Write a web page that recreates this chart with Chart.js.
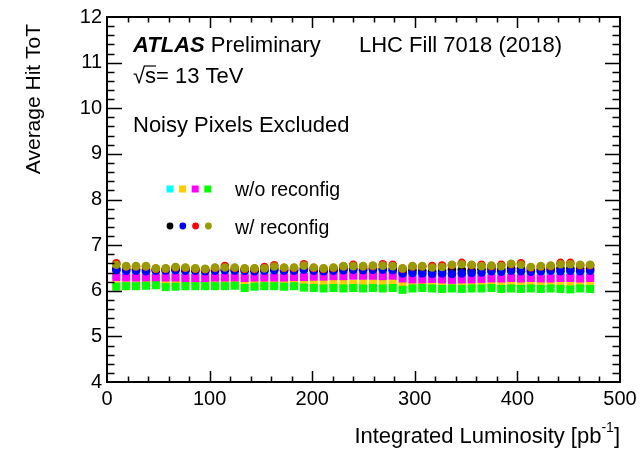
<!DOCTYPE html>
<html lang="en">
<head>
<meta charset="UTF-8">
<title>Average Hit ToT vs Integrated Luminosity</title>
<script src="https://cdn.jsdelivr.net/npm/chart.js@4.4.1/dist/chart.umd.min.js"></script>
<style>
  body { margin: 0; background: #ffffff; }
  canvas { display: block; }
</style>
</head>
<body>
<canvas id="totChart" width="642" height="452"></canvas>
<script>
// integrated luminosity of each measurement [pb^-1]
const lumi = [9.1, 18.7, 28.3, 38.0, 47.6, 57.2, 66.8, 76.4, 86.1, 95.7,
  105.3, 114.9, 124.5, 134.2, 143.8, 153.4, 163.0, 172.6, 182.3, 191.9,
  201.5, 211.1, 220.7, 230.4, 240.0, 249.6, 259.2, 268.8, 278.5, 288.1,
  297.7, 307.3, 316.9, 326.6, 336.2, 345.8, 355.4, 365.0, 374.7, 384.3,
  393.9, 403.5, 413.1, 422.8, 432.4, 442.0, 451.6, 461.2, 470.9];

// w/o reconfig (squares)
const woCyan = [6.35, 6.35, 6.34, 6.35, 6.34, 6.35, 6.35, 6.34, 6.34, 6.34,
  6.35, 6.35, 6.35, 6.34, 6.35, 6.35, 6.35, 6.35, 6.36, 6.36,
  6.36, 6.36, 6.37, 6.37, 6.37, 6.37, 6.37, 6.36, 6.37, 6.33,
  6.32, 6.32, 6.33, 6.32, 6.31, 6.32, 6.32, 6.33, 6.34, 6.34,
  6.34, 6.34, 6.35, 6.34, 6.34, 6.35, 6.35, 6.34, 6.35];
const woOrange = [6.12, 6.12, 6.12, 6.13, 6.19, 6.16, 6.17, 6.17, 6.17, 6.13,
  6.13, 6.13, 6.14, 6.12, 6.13, 6.13, 6.13, 6.14, 6.14, 6.16,
  6.15, 6.16, 6.15, 6.16, 6.15, 6.17, 6.17, 6.19, 6.17, 6.12,
  6.11, 6.12, 6.12, 6.13, 6.14, 6.15, 6.15, 6.16, 6.14, 6.13,
  6.14, 6.14, 6.16, 6.15, 6.16, 6.15, 6.16, 6.15, 6.14];
const woMagenta = [6.30, 6.29, 6.29, 6.29, 6.28, 6.29, 6.29, 6.28, 6.28, 6.28,
  6.29, 6.29, 6.29, 6.28, 6.29, 6.29, 6.29, 6.29, 6.30, 6.30,
  6.31, 6.31, 6.32, 6.32, 6.33, 6.33, 6.33, 6.32, 6.33, 6.27,
  6.25, 6.25, 6.26, 6.25, 6.24, 6.25, 6.25, 6.26, 6.27, 6.27,
  6.28, 6.27, 6.28, 6.27, 6.27, 6.28, 6.28, 6.27, 6.28];
const woGreen = [6.09, 6.10, 6.10, 6.11, 6.12, 6.08, 6.09, 6.10, 6.10, 6.10,
  6.10, 6.10, 6.11, 6.06, 6.09, 6.10, 6.10, 6.09, 6.10, 6.07,
  6.06, 6.05, 6.06, 6.05, 6.06, 6.05, 6.06, 6.05, 6.06, 6.02,
  6.05, 6.06, 6.05, 6.04, 6.05, 6.04, 6.05, 6.05, 6.06, 6.04,
  6.05, 6.04, 6.05, 6.04, 6.05, 6.04, 6.03, 6.05, 6.04];

// w/ reconfig (circles)
const wBlack = [6.48, 6.47, 6.47, 6.46, 6.46, 6.46, 6.47, 6.46, 6.46, 6.45,
  6.46, 6.47, 6.46, 6.46, 6.45, 6.46, 6.48, 6.46, 6.46, 6.49,
  6.46, 6.45, 6.46, 6.48, 6.49, 6.48, 6.49, 6.49, 6.48, 6.44,
  6.45, 6.44, 6.43, 6.44, 6.46, 6.46, 6.45, 6.47, 6.48, 6.47,
  6.49, 6.48, 6.46, 6.47, 6.48, 6.49, 6.49, 6.48, 6.48];
const wBlue = [6.45, 6.44, 6.44, 6.43, 6.44, 6.44, 6.45, 6.44, 6.44, 6.43,
  6.44, 6.45, 6.44, 6.44, 6.43, 6.44, 6.45, 6.44, 6.44, 6.46,
  6.44, 6.43, 6.44, 6.45, 6.46, 6.45, 6.46, 6.46, 6.45, 6.38,
  6.39, 6.38, 6.37, 6.38, 6.37, 6.38, 6.39, 6.40, 6.43, 6.42,
  6.44, 6.43, 6.42, 6.43, 6.44, 6.43, 6.44, 6.43, 6.44];
const wRed = [6.60, 6.53, 6.53, 6.53, 6.48, 6.48, 6.51, 6.50, 6.48, 6.47,
  6.50, 6.54, 6.50, 6.48, 6.48, 6.52, 6.56, 6.50, 6.50, 6.58,
  6.50, 6.48, 6.50, 6.53, 6.57, 6.53, 6.54, 6.58, 6.57, 6.48,
  6.53, 6.53, 6.54, 6.55, 6.56, 6.61, 6.56, 6.57, 6.54, 6.57,
  6.58, 6.60, 6.51, 6.53, 6.54, 6.61, 6.61, 6.56, 6.56];
const wOlive = [6.57, 6.54, 6.54, 6.54, 6.49, 6.49, 6.52, 6.51, 6.49, 6.48,
  6.51, 6.51, 6.51, 6.49, 6.49, 6.49, 6.53, 6.51, 6.51, 6.55,
  6.51, 6.49, 6.51, 6.54, 6.54, 6.54, 6.55, 6.55, 6.54, 6.49,
  6.54, 6.54, 6.51, 6.52, 6.57, 6.58, 6.57, 6.54, 6.55, 6.54,
  6.59, 6.57, 6.52, 6.54, 6.55, 6.58, 6.58, 6.57, 6.57];

const FONT = "'Liberation Sans', Arial, Helvetica, sans-serif";

function series(values, color, style, radius, order) {
  return {
    data: lumi.map((x, i) => ({ x: x, y: values[i] })),
    backgroundColor: color,
    pointStyle: style,
    pointRadius: radius,
    pointBorderWidth: 0,
    showLine: false,
    order: order
  };
}

// order: first entry ends up at the back, olive circles on top
const datasets = [
  series(woCyan, '#00ffff', 'rect', 5.7, 8),
  series(woOrange, '#ffcc00', 'rect', 5.7, 7),
  series(woMagenta, '#ff00ff', 'rect', 5.7, 6),
  series(woGreen, '#00ff00', 'rect', 5.7, 5),
  series(wBlack, '#000000', 'circle', 4.3, 4),
  series(wBlue, '#0000ff', 'circle', 4.3, 3),
  series(wRed, '#ff0000', 'circle', 4.3, 2),
  series(wOlive, '#999900', 'circle', 4.3, 1)
];

// ROOT-style frame: inward ticks on all four sides, plus the text labels
const rootFrame = {
  id: 'rootFrame',
  afterDraw(chart) {
    const ctx = chart.ctx;
    const a = chart.chartArea;
    const xs = chart.scales.x, ys = chart.scales.y;
    ctx.save();
    ctx.strokeStyle = '#000';
    ctx.lineWidth = 2;
    ctx.strokeRect(a.left, a.top, a.right - a.left, a.bottom - a.top);

    ctx.lineWidth = 1.5;
    ctx.beginPath();
    for (let k = 1; k < 25; k++) {
      const px = Math.round(xs.getPixelForValue(k * 20)) + 0.5;
      const len = k % 5 === 0 ? 11 : 5.5;
      ctx.moveTo(px, a.bottom); ctx.lineTo(px, a.bottom - len);
      ctx.moveTo(px, a.top); ctx.lineTo(px, a.top + len);
    }
    for (let k = 1; k < 40; k++) {
      const py = Math.round(ys.getPixelForValue(4 + k * 0.2)) + 0.5;
      const len = k % 5 === 0 ? 15 : 7.5;
      ctx.moveTo(a.left, py); ctx.lineTo(a.left + len, py);
      ctx.moveTo(a.right, py); ctx.lineTo(a.right - len, py);
    }
    ctx.stroke();

    // header text
    ctx.fillStyle = '#000';
    ctx.textBaseline = 'alphabetic';
    ctx.textAlign = 'left';
    ctx.font = 'italic bold 22px ' + FONT;
    ctx.fillText('ATLAS', 133, 52);
    const atlasW = ctx.measureText('ATLAS ').width;
    ctx.font = '22px ' + FONT;
    ctx.fillText('Preliminary', 133 + atlasW, 52);
    ctx.fillText('LHC Fill 7018 (2018)', 359, 52);

    // sqrt(s) with a bar over the s
    const rootW = ctx.measureText('\u221A').width;
    const sW = ctx.measureText('s').width;
    ctx.fillText('\u221A', 133, 83);
    ctx.fillText('s= 13 TeV', 133 + rootW, 83);
    ctx.lineWidth = 1.2;
    ctx.beginPath();
    ctx.moveTo(133 + rootW - 1, 66);
    ctx.lineTo(133 + rootW + sW, 66);
    ctx.stroke();

    ctx.fillText('Noisy Pixels Excluded', 133, 132);

    // legend
    const sq = ['#00ffff', '#ffcc00', '#ff00ff', '#00ff00'];
    const dots = ['#000000', '#0000ff', '#ff0000', '#999900'];
    sq.forEach((c, i) => {
      ctx.fillStyle = c;
      ctx.fillRect(166.5 + i * 12.6, 185.5, 7, 7);
    });
    dots.forEach((c, i) => {
      ctx.fillStyle = c;
      ctx.beginPath();
      ctx.arc(170 + i * 12.8, 226, 3.4, 0, Math.PI * 2);
      ctx.fill();
    });
    ctx.fillStyle = '#000';
    ctx.font = '19.5px ' + FONT;
    ctx.fillText('w/o reconfig', 235, 196);
    ctx.fillText('w/ reconfig', 235, 234);

    // axis titles
    ctx.font = '21px ' + FONT;
    ctx.save();
    ctx.translate(40, 24);
    ctx.rotate(-Math.PI / 2);
    ctx.textAlign = 'right';
    ctx.fillText('Average Hit ToT', 0, 0);
    ctx.restore();

    const main = 'Integrated Luminosity [pb';
    ctx.font = '22px ' + FONT;
    const mainW = ctx.measureText(main).width;
    ctx.font = '14px ' + FONT;
    const supW = ctx.measureText('-1').width;
    ctx.font = '22px ' + FONT;
    const closeW = ctx.measureText(']').width;
    let tx = a.right - (mainW + supW + closeW);
    ctx.fillText(main, tx, 443);
    tx += mainW;
    ctx.font = '14px ' + FONT;
    ctx.fillText('-1', tx, 432);
    tx += supW;
    ctx.font = '22px ' + FONT;
    ctx.fillText(']', tx, 443);
    ctx.restore();
  }
};

new Chart(document.getElementById('totChart'), {
  type: 'scatter',
  data: { datasets: datasets },
  options: {
    responsive: false,
    animation: false,
    events: [],
    layout: { padding: { top: 14, right: 22, left: 0, bottom: 0 } },
    plugins: { legend: { display: false }, tooltip: { enabled: false } },
    scales: {
      x: {
        type: 'linear',
        min: 0,
        max: 500,
        grid: { display: false, drawTicks: false },
        border: { display: false },
        ticks: { stepSize: 100, padding: 5, color: '#000', font: { family: FONT, size: 20 } },
        afterFit: s => { s.height = 70; }
      },
      y: {
        min: 4,
        max: 12,
        grid: { display: false, drawTicks: false },
        border: { display: false },
        ticks: { stepSize: 1, padding: 5, color: '#000', font: { family: FONT, size: 20 } },
        afterFit: s => { s.width = 107; }
      }
    }
  },
  plugins: [rootFrame]
});
</script>
</body>
</html>
